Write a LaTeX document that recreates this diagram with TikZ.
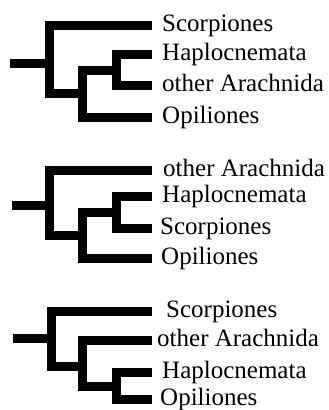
\documentclass[tikz,border=0pt]{standalone}
\usepackage{fontspec}
\setmainfont{Liberation Serif}
\begin{document}
\begin{tikzpicture}[x=1pt,y=-1pt,
  branch/.style={line width=9pt,line cap=butt,line join=miter},
  taxon/.style={anchor=base west,inner sep=0pt,font=\fontsize{25}{30}\selectfont}]
\useasboundingbox (0,0) rectangle (329,410);
% ---------- tree 1 ----------
\coordinate (t1a) at (152,25);
\coordinate (t1b) at (152,54);
\coordinate (t1c) at (152,85);
\coordinate (t1d) at (152,117);
\coordinate (s1) at (10,63);
\coordinate (r1) at (49,63);
\coordinate (r1b) at (49,93);
\coordinate (m1) at (82,93);
\coordinate (m1t) at (82,70);
\coordinate (i1) at (116,70);
\coordinate (i1b) at (116,85);
\draw[branch] (s1) -- (r1);
\draw[branch] (t1a) -| (r1b) -- (m1);
\draw[branch] (t1d) -| (m1t) -- (i1);
\draw[branch] (t1b) -| (i1b) -- (t1c);
\node[taxon] (l1a) at (162,31.5) {Scorpiones};
\node[taxon] (l1b) at (162,60.5) {Haplocnemata};
\node[taxon] (l1c) at (162,91.5) {other Arachnida};
\node[taxon] (l1d) at (162,123.5) {Opiliones};
% ---------- tree 2 ----------
\coordinate (t2a) at (152,170);
\coordinate (t2b) at (152,196);
\coordinate (t2c) at (152,228);
\coordinate (t2d) at (152,258);
\coordinate (s2) at (12,205);
\coordinate (r2) at (49,205);
\coordinate (r2b) at (49,235);
\coordinate (m2) at (82,235);
\coordinate (m2t) at (82,212);
\coordinate (i2) at (116,212);
\coordinate (i2b) at (116,228);
\draw[branch] (s2) -- (r2);
\draw[branch] (t2a) -| (r2b) -- (m2);
\draw[branch] (t2d) -| (m2t) -- (i2);
\draw[branch] (t2b) -| (i2b) -- (t2c);
\node[taxon] (l2a) at (163,176.5) {other Arachnida};
\node[taxon] (l2b) at (162,202.5) {Haplocnemata};
\node[taxon] (l2c) at (160,234.5) {Scorpiones};
\node[taxon] (l2d) at (161,264.5) {Opiliones};
% ---------- tree 3 ----------
\coordinate (t3a) at (152,311);
\coordinate (t3b) at (152,340);
\coordinate (t3c) at (152,372);
\coordinate (t3d) at (152,399);
\coordinate (s3) at (13,338);
\coordinate (r3) at (51,338);
\coordinate (r3b) at (51,366);
\coordinate (m3) at (82,366);
\coordinate (m3t) at (82,386);
\coordinate (i3) at (116,386);
\coordinate (i3b) at (116,399);
\draw[branch] (s3) -- (r3);
\draw[branch] (t3a) -| (r3b) -- (m3);
\draw[branch] (t3b) -| (m3t) -- (i3);
\draw[branch] (t3c) -| (i3b) -- (t3d);
\node[taxon] (l3a) at (166,317.5) {Scorpiones};
\node[taxon] (l3b) at (157,346.5) {other Arachnida};
\node[taxon] (l3c) at (162,378.5) {Haplocnemata};
\node[taxon] (l3d) at (160,405.5) {Opiliones};
\end{tikzpicture}
\end{document}
